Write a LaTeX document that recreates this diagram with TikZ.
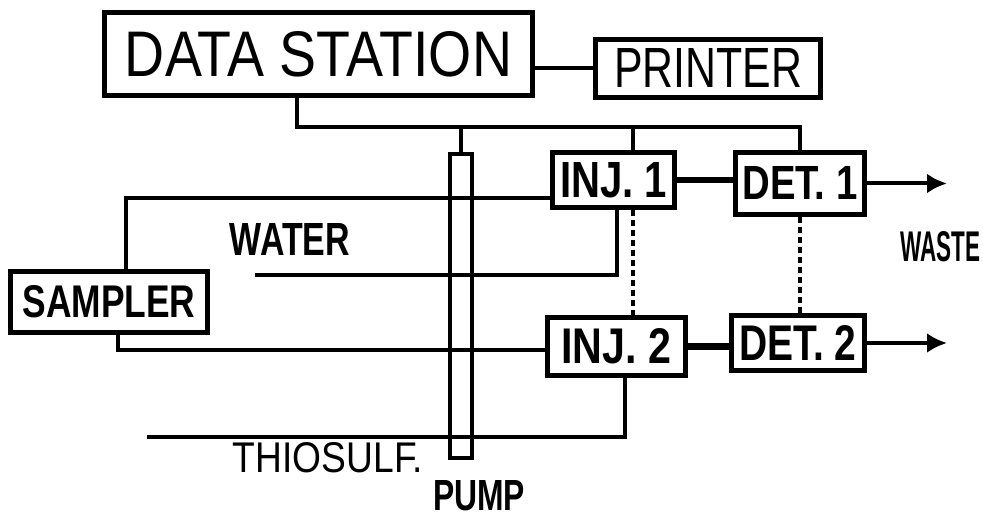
\documentclass[tikz,border=0pt]{standalone}
\usepackage{fontspec}
\setmainfont{Liberation Sans}
\usetikzlibrary{arrows.meta}
\newcommand{\fitbox}[3]{\resizebox{#1pt}{#2pt}{#3}}
\begin{document}
\begin{tikzpicture}[x=1pt, y=-1pt,
    box/.style={draw, line width=5pt, inner sep=0pt},
    pipe/.style={line width=4pt},
    link/.style={line width=6.5pt},
    tie/.style={line width=3.5pt, dash pattern=on 6pt off 4pt},
    drain/.style={line width=4pt, -{Latex[length=20pt,width=20pt]}}]
        \useasboundingbox (0,0) rectangle (983,518);
        \node[box, minimum width=428, minimum height=83] (station) at (318.5,54) {\fitbox{387}{45}{DATA STATION}};
        \node[box, minimum width=225, minimum height=58] (printer) at (708,68.5) {\fitbox{188}{39}{PRINTER}};
        \node[box, minimum width=122, minimum height=55] (inj1) at (613.5,180) {\fitbox{107}{35}{\bfseries INJ. 1}};
        \node[box, minimum width=129, minimum height=62] (det1) at (800,183.5) {\fitbox{115}{33}{\bfseries DET. 1}};
        \node[box, minimum width=138, minimum height=58] (inj2) at (616.5,346.5) {\fitbox{110}{35}{\bfseries INJ. 2}};
        \node[box, minimum width=133, minimum height=55] (det2) at (798,343) {\fitbox{117}{35}{\bfseries DET. 2}};
        \node[box, minimum width=197, minimum height=61] (sampler) at (109,302) {\fitbox{173}{32}{\bfseries SAMPLER}};
        \node (water) at (290,239) {\fitbox{120}{32}{\bfseries WATER}};
        \node (thio) at (328,458) {\fitbox{190}{30}{THIOSULF.}};
        \node (waste) at (940,247) {\fitbox{80}{30}{\bfseries WASTE}};
        \node[inner sep=0pt] (pumplabel) at (479,496) {\fitbox{92}{30}{\bfseries PUMP}};
        \coordinate (bus) at (297,127);
        \coordinate (s1) at (126,198);
        \coordinate (s2) at (118,350);
        \coordinate (w1) at (255,275);
        \coordinate (w2) at (617,275);
        \coordinate (t1) at (147,437);
        \coordinate (t2) at (625,437);
        \coordinate (c1) at (633,0);
        \draw[pipe] (station.east |- printer.west) -- (printer.west);
        \draw[pipe] (station.south -| bus) -- (bus) -| (det1.north);
        \draw[pipe] (bus -| c1) -- (inj1.north -| c1);
        \draw[pipe] (sampler.north -| s1) -- (s1) -- (s1 -| inj1.west);
        \draw[pipe] (sampler.south -| s2) -- (s2) -- (s2 -| inj2.west);
        \draw[pipe] (w1) -- (w2) -- (w2 |- inj1.south);
        \draw[pipe] (t1) -- (t2) -- (t2 |- inj2.south);
        \draw[link] (inj1.east) -- (inj1.east -| det1.west);
        \draw[link] (inj2.east) -- (inj2.east -| det2.west);
        \draw[tie] (inj1.south -| c1) -- (inj2.north -| c1);
        \draw[tie] (det1.south) -- (det1.south |- det2.north);
        \draw[drain] (det1.east) -- ++(80,0);
        \draw[drain] (det2.east) -- ++(80,0);
        \node[draw, line width=4pt, minimum width=22, minimum height=304, inner sep=0pt] (pump) at (461,306) {};
        \draw[pipe] (bus -| pump.north) -- (pump.north);
\end{tikzpicture}
\end{document}
